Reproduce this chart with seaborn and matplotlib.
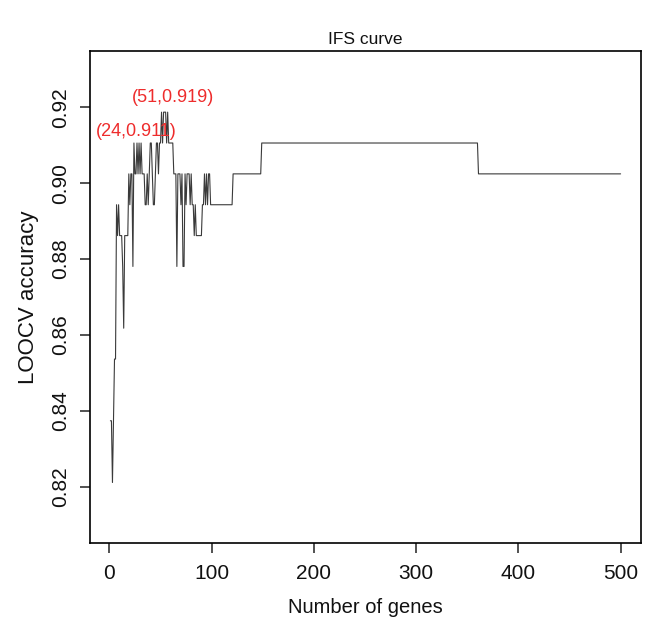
import numpy as np
import pandas as pd
import matplotlib
matplotlib.use("Agg")
import matplotlib.pyplot as plt
import seaborn as sns

# LOOCV: number of correctly classified samples out of 123, per number of genes
n_samples = 123
early_correct = [
    103, 103, 101, 103, 105, 105, 110, 109, 110, 109,
    109, 109, 108, 106, 109, 109, 109, 109, 111, 110,
    111, 111, 108, 112, 111, 111, 112, 111, 112, 111,
    112, 111, 111, 111, 110, 110, 111, 110, 111, 112,
    112, 111, 110, 110, 111, 112, 112, 111, 112, 112,
    113, 112, 113, 113, 113, 112, 113, 112, 112, 112,
    112, 112, 111, 111, 111, 108, 111, 111, 111, 110,
    111, 108, 108, 111, 110, 111, 111, 111, 110, 111,
    110, 110, 109, 110, 109, 109, 109, 109, 109, 109,
    110, 110, 111, 110, 111, 110, 111, 111, 110, 110,
]
# flat stretches after gene 100
plateau_correct = [110, 111, 112, 111]
plateau_length = [20, 28, 212, 140]

label_genes = [24, 51]
label_acc = [0.911, 0.919]

correct = np.concatenate([early_correct, np.repeat(plateau_correct, plateau_length)])
df = pd.DataFrame({
    "genes": np.arange(1, len(correct) + 1),
    "accuracy": correct / n_samples,
})

sns.set_style("white")
plt.rcParams["font.family"] = ["Liberation Sans", "DejaVu Sans"]

fig = plt.figure(figsize=(6.48, 6.23), dpi=100)
ax = fig.add_axes([0.1389, 0.1284, 0.8503, 0.7897])

sns.lineplot(data=df, x="genes", y="accuracy", color="#3a3a3a", linewidth=0.8, ax=ax)

# label positions (text centre offsets from the point)
offsets = [(2.5, 0.0025), (11.5, 0.0036)]
for g, a, (dx, dy) in zip(label_genes, label_acc, offsets):
    ax.text(g + dx, a + dy, f"({g},{a:.3f})", color="#EE2C2C", fontsize=13,
            ha="center", va="center")

ax.set_xlim(-18.96, 519.96)
ax.set_ylim(0.8052, 0.9348)
ax.set_xticks(range(0, 501, 100))
ax.set_yticks([0.82, 0.84, 0.86, 0.88, 0.90, 0.92])
ax.set_yticklabels(["0.82", "0.84", "0.86", "0.88", "0.90", "0.92"],
                   rotation=90, va="center")

for sp in ax.spines.values():
    sp.set_visible(True)
    sp.set_color("black")
    sp.set_linewidth(1.2)

ax.tick_params(axis="both", direction="out", length=7, width=1.1, color="#222222",
               labelsize=15, labelcolor="#111111", bottom=True, left=True)
ax.tick_params(axis="x", pad=8)
ax.tick_params(axis="y", pad=7)

ax.set_xlabel("Number of genes", fontsize=14.5, labelpad=11, color="#111111")
ax.set_ylabel("LOOCV accuracy", fontsize=16, labelpad=9, color="#111111")
ax.set_title("IFS curve", fontsize=12.5, pad=5, color="#111111")

fig.savefig("out.png", dpi=100)
